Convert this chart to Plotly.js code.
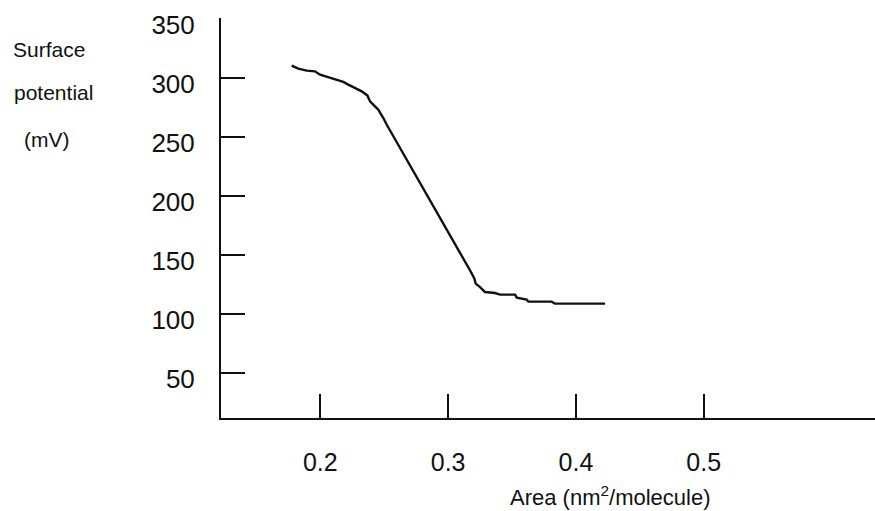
<!DOCTYPE html>
<html>
<head>
<meta charset="utf-8">
<script src="https://cdn.plot.ly/plotly-3.0.1.min.js"></script>
<style>
  html, body { margin: 0; padding: 0; background: #ffffff; }
  #chart { width: 875px; height: 511px; }
</style>
</head>
<body>
<div id="chart"></div>
<script>
// Area per molecule (nm^2/molecule)
const areaValues = [
  0.1776, 0.1828, 0.1894, 0.1958, 0.1998, 0.2063, 0.2128, 0.2180, 0.2219,
  0.2272, 0.2324, 0.2368, 0.2389, 0.2428, 0.2454, 0.2493, 0.2520,
  0.3171, 0.3205, 0.3216, 0.3250, 0.3289, 0.3367, 0.3406, 0.3524, 0.3537,
  0.3615, 0.3628, 0.3811, 0.3836, 0.4228
];
// Surface potential (mV)
const potentialValues = [
  310.2, 307.6, 305.9, 305.3, 302.5, 300.2, 298.3, 296.3, 294.0,
  291.2, 288.3, 284.9, 279.8, 275.6, 272.8, 265.7, 260.0,
  136.7, 129.7, 125.4, 122.5, 118.3, 117.4, 116.1, 116.1, 113.5,
  111.8, 110.1, 110.1, 108.4, 108.4
];
const xTickValues = [0.2, 0.3, 0.4, 0.5];
const xTickLabels = ['0.2', '0.3', '0.4', '0.5'];
const yTickValues = [50, 100, 150, 200, 250, 300, 350];
const yTickLabels = ['50', '100', '150', '200', '250', '300', '350'];
const yTitleLines = ['Surface', 'potential', '(mV)'];
const xTitleText = 'Area (nm<sup>2</sup>/molecule)';

const FONT = 'Liberation Sans, Arial, Helvetica, sans-serif';

const trace = {
  x: areaValues,
  y: potentialValues,
  type: 'scatter',
  mode: 'lines',
  line: { color: '#111111', width: 2.4 },
  hoverinfo: 'skip',
  showlegend: false
};

const layout = {
  width: 875,
  height: 511,
  margin: { l: 221, r: 0, t: 18, b: 93 },
  paper_bgcolor: '#ffffff',
  plot_bgcolor: '#ffffff',
  font: { family: FONT, color: '#111111' },
  showlegend: false,
  xaxis: {
    range: [0.1223, 0.634],
    tickmode: 'array',
    tickvals: xTickValues,
    ticktext: xTickLabels,
    ticks: 'inside',
    ticklen: 24,
    tickwidth: 2,
    tickcolor: '#111111',
    showline: true,
    linecolor: '#111111',
    linewidth: 2,
    showgrid: false,
    zeroline: false,
    tickfont: { family: FONT, size: 25, color: '#111111' },
    ticklabelstandoff: 21,
    ticklabeloverflow: 'allow'
  },
  yaxis: {
    range: [11.5, 350.5],
    tickmode: 'array',
    tickvals: yTickValues,
    ticktext: yTickLabels,
    ticks: 'inside',
    ticklen: 24,
    tickwidth: 2,
    tickcolor: '#111111',
    showline: true,
    linecolor: '#111111',
    linewidth: 2,
    showgrid: false,
    zeroline: false,
    tickfont: { family: FONT, size: 26, color: '#111111' },
    ticklabelstandoff: 19,
    ticklabelshift: 6,
    ticklabeloverflow: 'allow'
  },
  annotations: [
    { text: yTitleLines[0], xref: 'paper', yref: 'paper', x: (49 - 221) / 654, y: (418 - 49) / 400,
      xanchor: 'center', yanchor: 'middle', showarrow: false, font: { family: FONT, size: 21, color: '#111111' } },
    { text: yTitleLines[1], xref: 'paper', yref: 'paper', x: (53 - 221) / 654, y: (418 - 92) / 400,
      xanchor: 'center', yanchor: 'middle', showarrow: false, font: { family: FONT, size: 21, color: '#111111' } },
    { text: yTitleLines[2], xref: 'paper', yref: 'paper', x: (47 - 221) / 654, y: (418 - 139) / 400,
      xanchor: 'center', yanchor: 'middle', showarrow: false, font: { family: FONT, size: 21, color: '#111111' } },
    { text: xTitleText, xref: 'paper', yref: 'paper', x: (610 - 221) / 654, y: (418 - 496) / 400,
      xanchor: 'center', yanchor: 'middle', showarrow: false, font: { family: FONT, size: 22, color: '#111111' } }
  ]
};

Plotly.newPlot('chart', [trace], layout, { displayModeBar: false, staticPlot: true });
</script>
</body>
</html>
